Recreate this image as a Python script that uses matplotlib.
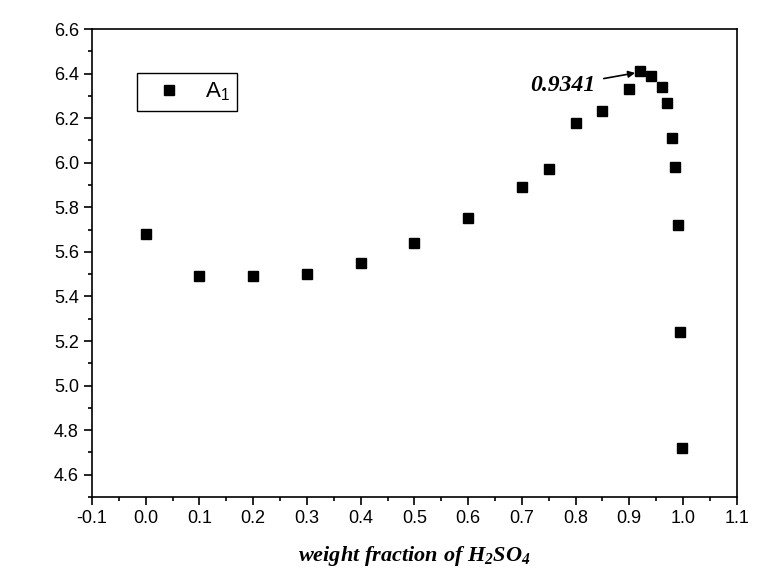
import matplotlib
matplotlib.use('Agg')
import matplotlib.pyplot as plt
from matplotlib.ticker import MultipleLocator

# weight fraction of H2SO4 vs A1
w_frac = [0.0, 0.1, 0.2, 0.3, 0.4, 0.5, 0.6, 0.7, 0.75, 0.8, 0.85, 0.9,
          0.92, 0.94, 0.96, 0.97, 0.98, 0.985, 0.99, 0.995, 0.998]
a1 = [5.68, 5.49, 5.49, 5.50, 5.55, 5.64, 5.75, 5.89, 5.97, 6.18, 6.23, 6.33,
      6.41, 6.39, 6.34, 6.27, 6.11, 5.98, 5.72, 5.24, 4.72]
peak_label = '0.9341'

plt.rcParams['font.family'] = ['Liberation Sans', 'DejaVu Sans']
plt.rcParams['axes.unicode_minus'] = False
# serif bold italic for the axis title, sans for the legend subscript
plt.rcParams['mathtext.fontset'] = 'custom'
plt.rcParams['mathtext.it'] = 'Liberation Serif:italic:bold'
plt.rcParams['mathtext.rm'] = 'Liberation Serif:italic:bold'
plt.rcParams['mathtext.sf'] = 'Liberation Sans'

fig = plt.figure(figsize=(7.63, 5.85), dpi=100)
ax = fig.add_axes([0.1206, 0.1504, 0.845, 0.8])

ax.plot(w_frac, a1, 's', color='black', markersize=7.5, label=r'A$\mathsf{_1}$')

ax.set_xlim(-0.1, 1.1)
ax.set_ylim(4.5, 6.6)
ax.xaxis.set_major_locator(MultipleLocator(0.1))
ax.xaxis.set_minor_locator(MultipleLocator(0.05))
ax.yaxis.set_major_locator(MultipleLocator(0.2))
ax.yaxis.set_minor_locator(MultipleLocator(0.1))
ax.set_xticklabels([f'{v:.1f}' for v in ax.get_xticks()])
ax.tick_params(which='major', direction='out', length=6, width=1.2, labelsize=13)
ax.tick_params(which='minor', direction='out', length=3, width=1.2)
for s in ax.spines.values():
    s.set_linewidth(1.2)

ax.set_xlabel(r'$weight\ fraction\ of\ H_{2}SO_{4}$', fontsize=16, labelpad=12)

ax.annotate(peak_label, xy=(w_frac[12] - 0.004, a1[12] - 0.005),
            xytext=(0.837, 6.345),
            fontsize=17, fontweight='bold', fontstyle='italic',
            family='Liberation Serif', ha='right', va='center',
            arrowprops=dict(arrowstyle='-|>', color='black', lw=1.2,
                            mutation_scale=10, shrinkA=4, shrinkB=2))

leg = ax.legend(loc='upper left', bbox_to_anchor=(0.0698, 0.906),
                borderaxespad=0, fontsize=16,
                fancybox=False, edgecolor='black', framealpha=1,
                handletextpad=0.5, borderpad=0.35, handlelength=2.2)
leg.get_frame().set_linewidth(1.0)

fig.savefig('out.png', dpi=100)
